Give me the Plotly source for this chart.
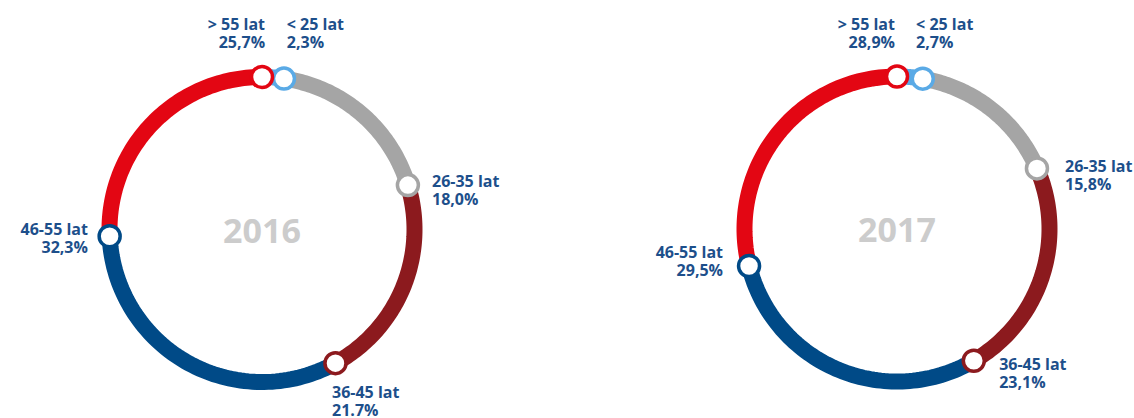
import numpy as np
import plotly.graph_objects as go

# Age structure of staff, share per age group (%)
categories = ["< 25 lat", "26-35 lat", "36-45 lat", "46-55 lat", "> 55 lat"]
years = ["2016", "2017"]
shares_2016 = [2.3, 18.0, 21.7, 32.3, 25.7]
shares_2017 = [2.7, 15.8, 23.1, 29.5, 28.9]
share_text_2016 = ["2,3%", "18,0%", "21.7%", "32,3%", "25,7%"]
share_text_2017 = ["2,7%", "15,8%", "23,1%", "29,5%", "28,9%"]

shares = {"2016": shares_2016, "2017": shares_2017}
share_text = {"2016": share_text_2016, "2017": share_text_2017}

# Styling
COLORS = ["#5aaae6", "#a5a5a5", "#8c1a1e", "#004a87", "#e30613"]
TEXT_COLOR = "#1d4f8b"
YEAR_COLOR = "#cccccc"
FONT = "Open Sans"

W, H = 1134, 418
RING_PX = 152.5          # pixel radius of the ring (r = 1)
R_MAX = 1.15             # radial axis upper bound
RING_WIDTH = 16
centers = {"2016": (262, 229.5), "2017": (897, 229)}   # px from top-left

# label frame extents, in ring radii (left, right, bottom, top)
LAB_X = (-1.4, 1.4)
LAB_Y = (-1.2, 1.4)

# label anchors: (angle offset from segment end in deg, radius, side)
label_place = {
    "2016": [(-1.3, 1.285, "right"), (4.4, 1.135, "right"), (7.1, 1.224, "right"),
             (-1.0, 1.137, "left"), (1.2, 1.276, "left")],
    "2017": [(-4.4, 1.278, "right"), (6.1, 1.147, "right"), (-4.5, 1.164, "right"),
             (2.9, 1.156, "left"), (-0.3, 1.272, "left")],
}


def px_domain(cx, cy, lo_x, hi_x, lo_y, hi_y):
    xd = [(cx + lo_x * RING_PX) / W, (cx + hi_x * RING_PX) / W]
    yd = [(H - cy + lo_y * RING_PX) / H, (H - cy + hi_y * RING_PX) / H]
    return xd, yd


fig = go.Figure()
extra_layout = {}

for i, year in enumerate(years):
    n = i + 1
    subplot = "polar" if n == 1 else f"polar{n}"
    xa, ya = ("x", "y") if n == 1 else (f"x{n}", f"y{n}")
    cx, cy = centers[year]
    pxd, pyd = px_domain(cx, cy, -R_MAX, R_MAX, -R_MAX, R_MAX)
    lxd, lyd = px_domain(cx, cy, *LAB_X, *LAB_Y)

    vals = shares[year]
    ends = np.cumsum(vals) * 3.6
    starts = np.concatenate([[0.0], ends[:-1]])

    # ring segments (clockwise from 12 o'clock)
    for k, cat in enumerate(categories):
        th = np.linspace(starts[k], ends[k], 80)
        fig.add_trace(go.Scatterpolar(
            r=np.ones_like(th), theta=th, mode="lines",
            line=dict(color=COLORS[k], width=RING_WIDTH),
            hoverinfo="skip", subplot=subplot, showlegend=False))

    # end-of-segment markers
    fig.add_trace(go.Scatterpolar(
        r=np.ones(len(vals)), theta=ends % 360, mode="markers",
        marker=dict(size=21, color="white", line=dict(color=COLORS, width=3.5)),
        hoverinfo="skip", subplot=subplot, showlegend=False, cliponaxis=False))

    # year in the middle of the ring
    fig.add_trace(go.Scatterpolar(
        r=[0.03], theta=[180], mode="text", text=[year],
        textposition="middle center",
        textfont=dict(family=FONT, size=34, color=YEAR_COLOR, weight=700),
        hoverinfo="skip", subplot=subplot, showlegend=False, cliponaxis=False))

    # labels on a cartesian overlay sharing the ring's frame (ring radius = 1)
    place = label_place[year]
    lab_th = np.radians([ends[k] + place[k][0] for k in range(len(vals))])
    lab_r = np.array([place[k][1] for k in range(len(vals))])
    lx, ly = lab_r * np.sin(lab_th), lab_r * np.cos(lab_th)
    sides = [place[k][2] for k in range(len(vals))]
    lab_font = dict(family=FONT, size=16, color=TEXT_COLOR, weight=700)
    for lines, vpos in ((categories, "top"), (share_text[year], "bottom")):
        fig.add_trace(go.Scatter(
            x=lx, y=ly, xaxis=xa, yaxis=ya, mode="markers+text", text=lines,
            textposition=[f"{vpos} {s}" for s in sides], textfont=lab_font,
            marker=dict(size=0.02, opacity=0),
            hoverinfo="skip", showlegend=False, cliponaxis=False))

    extra_layout[subplot] = dict(
        domain=dict(x=pxd, y=pyd),
        bgcolor="rgba(0,0,0,0)",
        radialaxis=dict(range=[0, R_MAX], visible=False, showgrid=False),
        angularaxis=dict(visible=False, showgrid=False, rotation=90,
                         direction="clockwise", thetaunit="degrees"),
    )
    axis_common = dict(visible=False, showgrid=False, zeroline=False,
                       fixedrange=True)
    extra_layout["xaxis" if n == 1 else f"xaxis{n}"] = dict(
        domain=lxd, range=list(LAB_X), anchor=ya, **axis_common)
    extra_layout["yaxis" if n == 1 else f"yaxis{n}"] = dict(
        domain=lyd, range=list(LAB_Y), anchor=xa, **axis_common)

fig.update_layout(
    width=W, height=H,
    margin=dict(l=0, r=0, t=0, b=0),
    paper_bgcolor="white", plot_bgcolor="rgba(0,0,0,0)",
    showlegend=False, dragmode=False,
    **extra_layout,
)

fig.write_html("out.html", config={"displayModeBar": False})
